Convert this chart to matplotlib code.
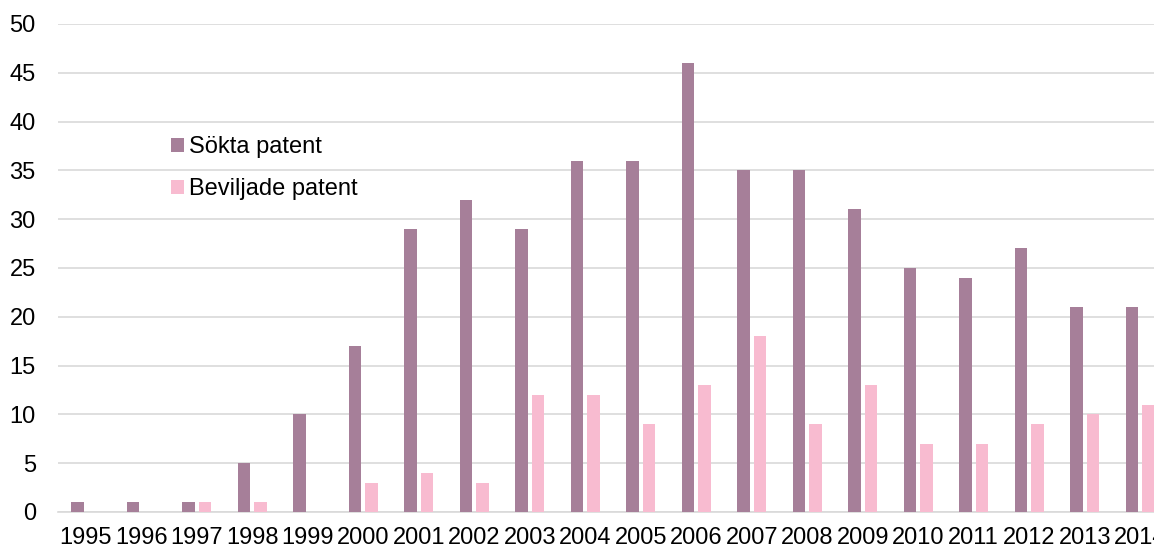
import matplotlib
matplotlib.use("Agg")
import matplotlib.pyplot as plt
import numpy as np

years = ["1995", "1996", "1997", "1998", "1999", "2000", "2001", "2002", "2003", "2004",
         "2005", "2006", "2007", "2008", "2009", "2010", "2011", "2012", "2013", "2014"]
sokta = [1, 1, 1, 5, 10, 17, 29, 32, 29, 36, 36, 46, 35, 35, 31, 25, 24, 27, 21, 21]
beviljade = [0, 0, 1, 1, 0, 3, 4, 3, 12, 12, 9, 13, 18, 9, 13, 7, 7, 9, 10, 11]
yticks = [0, 5, 10, 15, 20, 25, 30, 35, 40, 45, 50]

plt.rcParams['font.family'] = ['Liberation Sans', 'DejaVu Sans']

W, H = 1154, 549
fig = plt.figure(figsize=(W / 100, H / 100), dpi=100)
left, right, bottom, top = 58, 1168, 512, 24
ax = fig.add_axes([left / W, 1 - bottom / H, (right - left) / W, (bottom - top) / H])

x = np.arange(len(years))
bw = 0.225
off = 0.145
ax.bar(x - off, sokta, width=bw, color='#A67F99', label='Sökta patent', zorder=3)
ax.bar(x + off, beviljade, width=bw, color='#F8BBD0', label='Beviljade patent', zorder=3)

ax.set_xlim(-0.5, len(years) - 0.5)
ax.set_ylim(0, 50)
ax.set_yticks(yticks)
ax.set_xticks(x)
ax.set_xticklabels(years)
ax.grid(axis='y', color='#D9D9D9', linewidth=1.2, zorder=0)
for s in ['top', 'right', 'left']:
    ax.spines[s].set_visible(False)
ax.spines['bottom'].set_color('#D9D9D9')
ax.spines['bottom'].set_linewidth(1.2)
ax.tick_params(axis='both', length=0, labelsize=17, colors='black')
ax.tick_params(axis='y', pad=16)
ax.tick_params(axis='x', pad=11)

leg = ax.legend(loc='upper left', bbox_to_anchor=(171 / W, 1 - 136 / H),
                bbox_transform=fig.transFigure, frameon=False, fontsize=17,
                handlelength=0.55, handleheight=0.55, handletextpad=0.2,
                labelspacing=0.85, borderpad=0, borderaxespad=0)

fig.savefig('out.png', dpi=100)
